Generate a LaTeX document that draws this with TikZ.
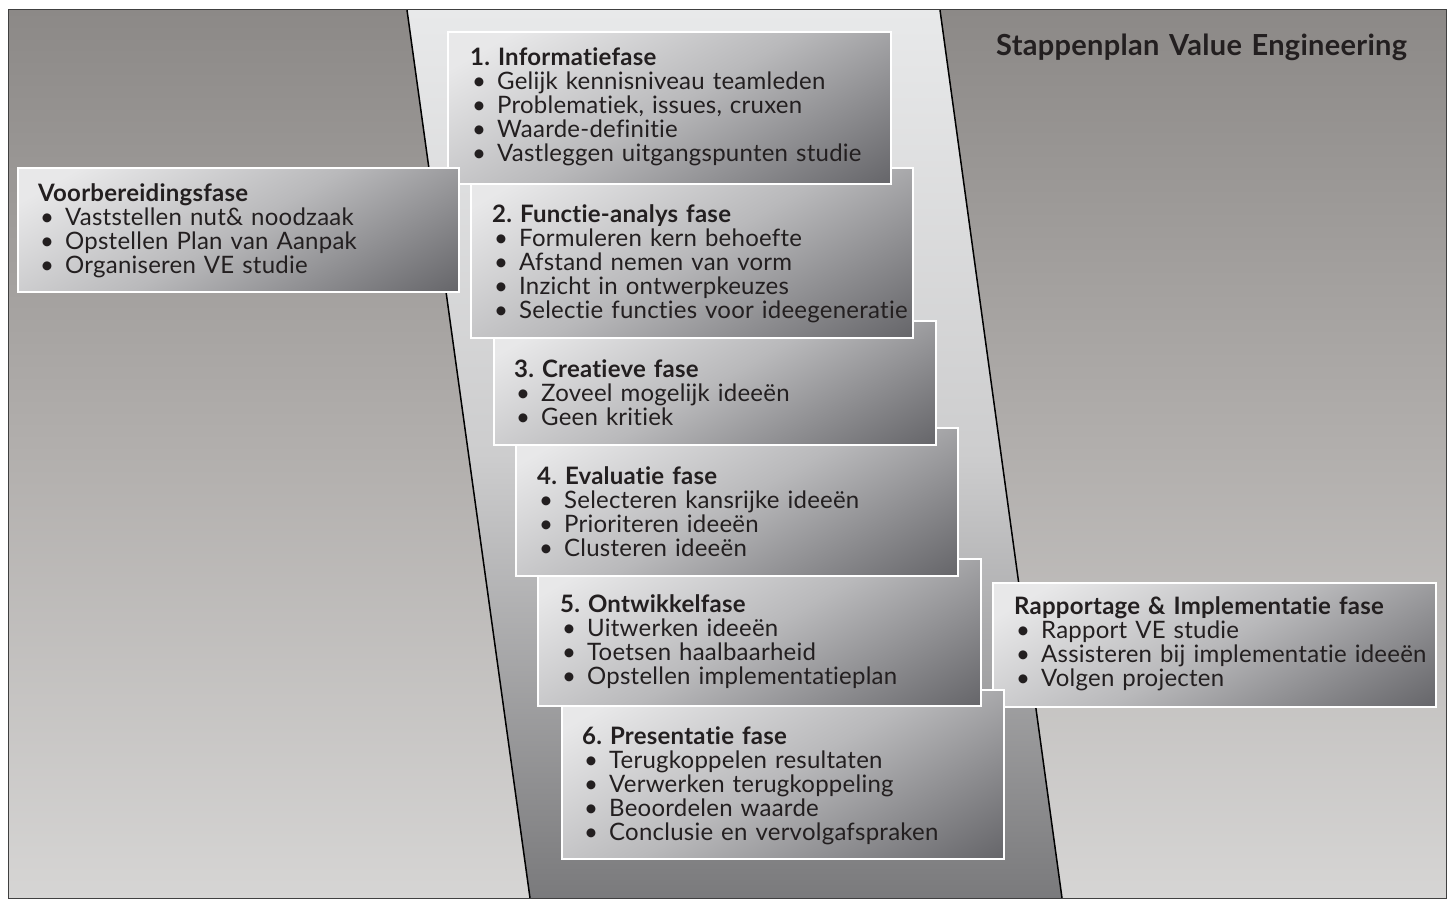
\documentclass[tikz,border=0pt]{standalone}
\usepackage{fontspec}
\setmainfont{Lato}[LetterSpace=1, Ligatures=NoCommon]
\frenchspacing
\tikzset{>=latex}
\definecolor{bgtop}{HTML}{8C8987}
\definecolor{bgmid}{HTML}{B2AFAD}
\definecolor{bgbot}{HTML}{D6D5D4}
\definecolor{bandtop}{HTML}{E8E9EA}
\definecolor{bandmid}{HTML}{CDCDCE}
\definecolor{bandbot}{HTML}{7A7A7C}
\definecolor{boxlight}{HTML}{E8E8E9}
\definecolor{boxmid}{HTML}{B9B9BB}
\definecolor{boxdark}{HTML}{66666A}
\definecolor{ink}{HTML}{231F20}
\pgfdeclareverticalshading{phaseshade}{100bp}{color(0bp)=(boxdark); color(16bp)=(boxdark);
  color(50bp)=(boxmid); color(78bp)=(boxlight); color(100bp)=(boxlight)}
\tikzset{
  phasebox/.style={draw=white, line width=2.5pt, shading=phaseshade, shading angle=30},
  phasetext/.style={anchor=base west, inner sep=0pt, text width=440pt,
    align=left, text=ink, font=\fontsize{24}{24}\selectfont},
}
\newcommand*{\itm}{\makebox[27pt][l]{\hspace{2pt}\textbullet}}

\begin{document}
\begin{tikzpicture}[x=1pt, y=-1pt]
    \useasboundingbox (0, 0) rectangle (1452, 899);
    % background and band
    \shade[top color=bgtop, bottom color=bgbot, middle color=bgmid](8, 10) rectangle (1446, 898);
    \shade[top color=bandtop, bottom color=bandbot, middle color=bandmid](407, 10)--(940, 10)--(1062, 898)--(530, 898)--cycle;
    \draw[line width=1.5pt](407, 10)--(530, 898) (940, 10)--(1062, 898);
    \draw[line width=1pt, draw=black!75](8, 10) rectangle (1446, 898);
    \node[phasetext, font=\fontsize{29}{30}\selectfont\bfseries] (title) at (996, 56) {Stappenplan Value Engineering};

    % boxes, later phases first
    \shadedraw[phasebox](993, 583) rectangle (1436, 707);
    \shadedraw[phasebox](562, 690) rectangle (1004, 859);
    \shadedraw[phasebox](538, 559) rectangle (981, 706);
    \shadedraw[phasebox](516, 428) rectangle (958, 576);
    \shadedraw[phasebox](494, 321) rectangle (936, 445);
    \shadedraw[phasebox](471, 168) rectangle (913, 338);
    \shadedraw[phasebox](448, 32) rectangle (891, 184);
    \shadedraw[phasebox](18, 168) rectangle (459, 292);

    \node[phasetext] (prep) at (38, 201) {\textbf{Voorbereidingsfase}\\
        \itm Vaststellen nut\& noodzaak\\ \itm Opstellen Plan van Aanpak\\ \itm Organiseren VE studie};
    \node[phasetext] (info) at (470, 66) {\textbf{1. Informatiefase}\\
        \itm Gelijk kennisniveau teamleden\\ \itm Problematiek, issues, cruxen\\
        \itm Waarde-definitie\\ \itm Vastleggen uitgangspunten studie};
    \node[phasetext] (func) at (492, 222) {\textbf{2. Functie-analys fase}\\
        \itm Formuleren kern behoefte\\ \itm Afstand nemen van vorm\\
        \itm Inzicht in ontwerpkeuzes\\ \itm Selectie functies voor ideegeneratie};
    \node[phasetext] (crea) at (514, 377) {\textbf{3. Creatieve fase}\\
        \itm Zoveel mogelijk ideeën\\ \itm Geen kritiek};
    \node[phasetext] (eval) at (537, 484) {\textbf{4. Evaluatie fase}\\
        \itm Selecteren kansrijke ideeën\\ \itm Prioriteren ideeën\\ \itm Clusteren ideeën};
    \node[phasetext] (ontw) at (560, 612) {\textbf{5. Ontwikkelfase}\\
        \itm Uitwerken ideeën\\ \itm Toetsen haalbaarheid\\ \itm Opstellen implementatieplan};
    \node[phasetext] (pres) at (582, 744) {\textbf{6. Presentatie fase}\\
        \itm Terugkoppelen resultaten\\ \itm Verwerken terugkoppeling\\
        \itm Beoordelen waarde\\ \itm Conclusie en vervolgafspraken};
    \node[phasetext] (rapp) at (1014, 614) {\textbf{Rapportage \& Implementatie fase}\\
        \itm Rapport VE studie\\ \itm Assisteren bij implementatie ideeën\\ \itm Volgen projecten};
\end{tikzpicture}
\end{document}
